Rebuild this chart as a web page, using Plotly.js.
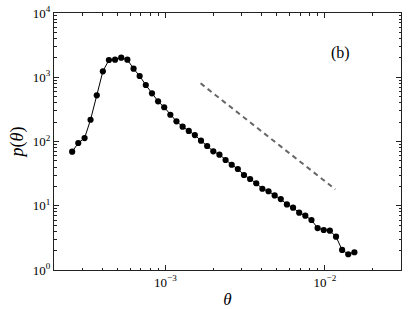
<!DOCTYPE html>
<html>
<head>
<meta charset="utf-8">
<script src="https://cdn.plot.ly/plotly-3.0.1.min.js"></script>
<style>html,body{margin:0;padding:0;background:#fff;}#chart{width:411px;height:309px;}</style>
</head>
<body>
<div id="chart"></div>
<script>
// theta bin centres
const theta = [2.60e-4, 2.84e-4, 3.11e-4, 3.39e-4, 3.71e-4, 4.05e-4, 4.42e-4, 4.83e-4, 5.28e-4, 5.77e-4,
  6.31e-4, 6.89e-4, 7.53e-4, 8.23e-4, 8.99e-4, 9.82e-4, 1.073e-3, 1.172e-3, 1.281e-3, 1.400e-3,
  1.529e-3, 1.671e-3, 1.826e-3, 1.995e-3, 2.180e-3, 2.382e-3, 2.603e-3, 2.844e-3, 3.107e-3, 3.395e-3,
  3.710e-3, 4.053e-3, 4.429e-3, 4.839e-3, 5.287e-3, 5.777e-3, 6.312e-3, 6.897e-3, 7.535e-3, 8.234e-3,
  8.997e-3, 9.83e-3, 1.074e-2, 1.174e-2, 1.282e-2, 1.401e-2, 1.531e-2];
// p(theta)
const p = [69.4, 94.8, 113, 218, 524, 1238, 1855, 1877, 2015, 1877,
  1358, 1046, 757, 562, 422, 341, 261, 206, 170, 146,
  126, 103, 85.1, 70.4, 62.3, 51.5, 43.5, 37.3, 30.1, 26.1,
  22.4, 18.4, 16.8, 14.5, 12.7, 10.5, 9.33, 7.80, 7.00, 6.00,
  4.50, 4.19, 4.09, 3.30, 2.05, 1.76, 1.89];
// reference power-law guide line (slope -2)
const guideX = [1.66e-3, 1.162e-2];
const guideY = [805, 18.0];
// tick labels
const yTickVals = [1, 10, 100, 1000, 10000];
const yTickText = ['10<sup>0</sup>', '10<sup>1</sup>', '10<sup>2</sup>', '10<sup>3</sup>', '10<sup>4</sup>'];
const xTickVals = [1e-3, 1e-2];
const xTickText = ['10<sup>\u22123</sup>', '10<sup>\u22122</sup>'];
const panelLabel = '(b)';

const fam = '"Liberation Serif", "DejaVu Serif", serif';

const traces = [
  {x: theta, y: p, mode: 'lines+markers', type: 'scatter',
   line: {color: '#000', width: 1},
   marker: {color: '#000', size: 6.2}},
  {x: guideX, y: guideY, mode: 'lines', type: 'scatter',
   line: {color: '#666', width: 2, dash: '5px,4px'}}
];

const axCommon = {
  type: 'log', showgrid: false, zeroline: false,
  showline: true, linecolor: '#222', linewidth: 1, mirror: 'allticks',
  ticks: 'inside', ticklen: 5, tickcolor: '#222', tickwidth: 1,
  tickfont: {family: fam, size: 13, color: '#000000'},
  minor: {ticks: 'inside', ticklen: 2.5, tickcolor: '#222', dtick: 'D1', showgrid: false},
  tickmode: 'array'
};

const layout = {
  width: 411, height: 309,
  margin: {l: 54, r: 10, t: 13, b: 39},
  paper_bgcolor: '#fff', plot_bgcolor: '#fff',
  showlegend: false,
  font: {family: fam, color: '#000000'},
  xaxis: Object.assign({}, axCommon, {
    range: [Math.log10(2e-4), Math.log10(3e-2)],
    tickvals: xTickVals, ticktext: xTickText,
    title: {text: '<i>θ</i>', font: {family: fam, size: 17, color: '#000000'}, standoff: 6}
  }),
  yaxis: Object.assign({}, axCommon, {
    range: [0, 4],
    tickvals: yTickVals, ticktext: yTickText,
    title: {text: '<i>p</i>(<i>θ</i>)', font: {family: fam, size: 18, color: '#000000'}, standoff: 4}
  }),
  annotations: [{
    text: panelLabel, xref: 'paper', yref: 'paper', x: 0.827, y: 0.844,
    xanchor: 'center', yanchor: 'middle',
    showarrow: false, font: {family: fam, size: 16, color: '#000000'}
  }]
};

Plotly.newPlot('chart', traces, layout, {staticPlot: true, displayModeBar: false});
</script>
</body>
</html>
